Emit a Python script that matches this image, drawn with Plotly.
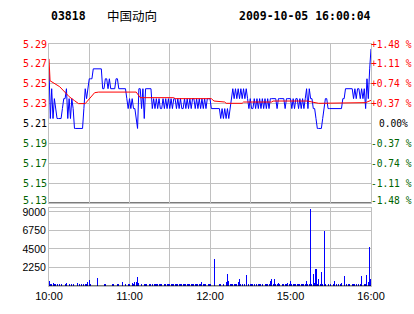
import plotly.graph_objects as go

# ---------------- data ----------------
code = "03818"
name = "中国动向"
stamp = "2009-10-05 16:00:04"

# minute index 0..240 (10:00-12:30, 14:30-16:00)
time_ticks = [0, 30, 60, 90, 120, 150, 180, 210, 240]
time_labels = ["10:00", "", "11:00", "", "12:00", "", "15:00", "", "16:00"]

price = [
    5.27, 5.22, 5.25, 5.22, 5.24, 5.23, 5.22, 5.22, 5.22, 5.22, 5.23, 5.24, 5.24, 5.25, 5.22,
    5.24, 5.22, 5.24, 5.23, 5.21, 5.21, 5.21, 5.21, 5.21, 5.21, 5.21, 5.23, 5.25, 5.24, 5.25,
    5.26, 5.26, 5.26, 5.27, 5.27, 5.27, 5.27, 5.27, 5.27, 5.27, 5.25, 5.25, 5.26, 5.26, 5.25,
    5.26, 5.25, 5.25, 5.25, 5.25, 5.26, 5.26, 5.25, 5.25, 5.25, 5.25, 5.25, 5.25, 5.24, 5.23,
    5.24, 5.23, 5.24, 5.23, 5.23, 5.22, 5.21, 5.25, 5.25, 5.23, 5.25, 5.22, 5.25, 5.25, 5.25,
    5.25, 5.25, 5.23, 5.24, 5.23, 5.24, 5.23, 5.24, 5.23, 5.23, 5.24, 5.23, 5.24, 5.23, 5.24,
    5.23, 5.24, 5.23, 5.24, 5.24, 5.23, 5.24, 5.23, 5.24, 5.23, 5.23, 5.24, 5.23, 5.24, 5.23,
    5.24, 5.23, 5.24, 5.24, 5.23, 5.24, 5.23, 5.24, 5.23, 5.24, 5.23, 5.24, 5.23, 5.24, 5.24,
    5.24, 5.23, 5.23, 5.23, 5.23, 5.23, 5.23, 5.23, 5.22, 5.23, 5.22, 5.23, 5.22, 5.23, 5.22,
    5.23, 5.24, 5.25, 5.24, 5.25, 5.24, 5.25, 5.24, 5.25, 5.24, 5.25, 5.24, 5.25, 5.24, 5.23,
    5.24, 5.23, 5.23, 5.24, 5.23, 5.24, 5.23, 5.24, 5.23, 5.24, 5.23, 5.24, 5.23, 5.24, 5.23,
    5.24, 5.24, 5.24, 5.24, 5.24, 5.23, 5.24, 5.24, 5.24, 5.24, 5.24, 5.23, 5.24, 5.24, 5.24,
    5.24, 5.23, 5.24, 5.23, 5.24, 5.24, 5.23, 5.24, 5.23, 5.24, 5.23, 5.24, 5.25, 5.23, 5.25,
    5.24, 5.24, 5.23, 5.23, 5.22, 5.21, 5.21, 5.21, 5.21, 5.22, 5.23, 5.24, 5.24, 5.23, 5.23,
    5.23, 5.23, 5.23, 5.23, 5.23, 5.23, 5.23, 5.23, 5.23, 5.24, 5.24, 5.25, 5.25, 5.25, 5.25,
    5.25, 5.25, 5.24, 5.25, 5.24, 5.25, 5.25, 5.24, 5.25, 5.24, 5.25, 5.23, 5.26, 5.24, 5.27,
    5.29,
]

# average price line (minute, value)
avg_min = [0, 0.8, 8, 12, 15, 19, 22, 27, 30, 34, 37, 65, 68, 93, 94, 121, 123, 131, 132,
           144, 145, 166, 167, 193, 196, 200, 201, 236, 240]
avg_val = [5.280, 5.258, 5.252, 5.246, 5.242, 5.238, 5.235, 5.235, 5.240, 5.246, 5.2466,
           5.2466, 5.241, 5.241, 5.240, 5.240, 5.2376, 5.2366, 5.2353, 5.2353, 5.2366, 5.2366,
           5.2376, 5.2376, 5.2366, 5.236, 5.2353, 5.236, 5.2383]

volume = [
    640, 300, 250, 350, 300, 250, 300, 0, 250, 250, 0, 0, 300, 400, 0,
    250, 0, 300, 250, 0, 0, 400, 0, 250, 300, 0, 250, 300, 250, 450,
    720, 250, 0, 0, 0, 0, 960, 0, 0, 0, 0, 250, 300, 0, 0,
    0, 0, 250, 250, 0, 0, 300, 250, 0, 0, 450, 0, 250, 0, 300,
    250, 0, 350, 250, 450, 500, 1100, 400, 0, 250, 0, 250, 250, 300, 0,
    250, 300, 250, 0, 250, 300, 250, 300, 250, 250, 0, 250, 300, 250, 250,
    250, 250, 250, 300, 250, 250, 250, 300, 250, 250, 250, 250, 300, 250, 250,
    250, 250, 250, 250, 300, 250, 250, 250, 250, 500, 250, 250, 250, 0, 300,
    250, 0, 0, 3285, 0, 0, 0, 250, 300, 0, 250, 0, 450, 1480, 600,
    300, 250, 300, 250, 300, 250, 500, 800, 250, 250, 0, 300, 1360, 0, 250,
    300, 250, 250, 250, 0, 250, 250, 300, 250, 250, 0, 250, 300, 250, 250,
    600, 800, 300, 860, 250, 250, 400, 300, 0, 250, 300, 250, 300, 400, 250,
    650, 300, 250, 250, 250, 250, 300, 250, 250, 300, 250, 250, 600, 250, 300,
    9300, 300, 1480, 400, 2080, 250, 860, 250, 1720, 300, 6650, 250, 0, 300, 0,
    300, 0, 250, 600, 250, 0, 300, 250, 400, 0, 1240, 0, 250, 300, 250,
    0, 250, 300, 250, 300, 0, 300, 250, 1240, 0, 300, 250, 1360, 500, 4730,
    860,
]

price_ticks = [5.135, 5.155, 5.175, 5.195, 5.215, 5.235, 5.255, 5.275, 5.295]
price_labels = ["5.13", "5.15", "5.17", "5.19", "5.21", "5.23", "5.25", "5.27", "5.29"]
pct_labels = ["-1.48 %", "-1.11 %", "-0.74 %", "-0.37 %", "0.00%",
              "+0.37 %", "+0.74 %", "+1.11 %", "+1.48 %"]
vol_ticks = [2250, 4500, 6750, 9000]

# ---------------- figure ----------------
W, H = 414, 314
L, R, T, B = 49, 43, 44, 26
pw, ph = W - L - R, H - T - B


def px_x(px):
    return (px - L) / pw


def px_y(py):
    return (H - B - py) / ph


RED = "#ff0000"
GREEN = "#006400"
GRID = "#c0c0c0"

fig = go.Figure()
minutes = list(range(len(price)))
fig.add_trace(go.Scatter(x=minutes, y=price, mode="lines",
                         line=dict(color="#0000ff", width=1), xaxis="x", yaxis="y",
                         hoverinfo="skip"))
fig.add_trace(go.Scatter(x=avg_min, y=avg_val, mode="lines",
                         line=dict(color=RED, width=1), xaxis="x", yaxis="y",
                         hoverinfo="skip"))
fig.add_trace(go.Bar(x=list(range(len(volume))), y=volume, width=0.76,
                     marker=dict(color="#0000ff", line=dict(width=0)),
                     xaxis="x2", yaxis="y2", hoverinfo="skip"))

price_dom = [px_y(204.3), 1]
vol_dom = [0, px_y(209.3)]

axis_common = dict(showgrid=True, gridcolor=GRID, gridwidth=1, zeroline=False,
                   showline=True, mirror=True, linecolor=GRID, linewidth=1,
                   ticks="", fixedrange=True)

fig.update_layout(
    width=W, height=H, margin=dict(l=L, r=R, t=T, b=B, pad=0),
    paper_bgcolor="white", plot_bgcolor="white", showlegend=False, hovermode=False,
    bargap=0,
    xaxis=dict(domain=[0, 1], anchor="y", range=[0, 240], tickvals=time_ticks,
               showticklabels=False, **axis_common),
    yaxis=dict(domain=price_dom, anchor="x", range=[price_ticks[0], price_ticks[-1]],
               tickvals=price_ticks, showticklabels=False, **axis_common),
    xaxis2=dict(domain=[0, 1], anchor="y2", range=[0, 240], tickvals=time_ticks,
                ticktext=time_labels, tickfont=dict(family="Liberation Sans", size=11, color="black"),
                **axis_common),
    yaxis2=dict(domain=vol_dom, anchor="x2", range=[0, 9482], tickvals=vol_ticks,
                ticktext=[str(v) for v in vol_ticks],
                tickfont=dict(family="Liberation Sans", size=10.5, color="black"),
                **axis_common),
)

# black reference lines
fig.add_shape(type="line", xref="x", yref="y", x0=0, x1=240, y0=price_ticks[4], y1=price_ticks[4],
              line=dict(color="black", width=1), layer="below")
fig.add_shape(type="line", xref="x", yref="y", x0=0, x1=240, y0=price_ticks[0], y1=price_ticks[0],
              line=dict(color="black", width=1), layer="below")
fig.add_shape(type="line", xref="x2", yref="y2", x0=0, x1=240, y0=0, y1=0,
              line=dict(color="black", width=1), layer="above")

mono = "DejaVu Sans Mono"
for i, (v, lab, pl) in enumerate(zip(price_ticks, price_labels, pct_labels)):
    col = GREEN if i < 4 else ("black" if i == 4 else RED)
    ys = 2 if i == 0 else 0
    fig.add_annotation(xref="paper", yref="y", x=0, y=v, text=lab, showarrow=False,
                       xanchor="right", yanchor="middle", xshift=-1, yshift=ys, borderpad=0,
                       font=dict(family=mono, size=10, color=col))
    fig.add_annotation(xref="paper", yref="y", x=1, y=v, text=pl, showarrow=False,
                       xanchor="left", yanchor="middle", xshift=(7 if i == 4 else -1),
                       yshift=ys, borderpad=0,
                       font=dict(family=mono, size=9.6, color=col))

# header
fig.add_annotation(xref="paper", yref="paper", x=px_x(49), y=px_y(16), text="<b>" + code + "</b>",
                   showarrow=False, xanchor="left", yanchor="middle",
                   font=dict(family=mono, size=11.5, color="black"))
fig.add_annotation(xref="paper", yref="paper", x=px_x(105), y=px_y(15.5), text=name,
                   showarrow=False, xanchor="left", yanchor="middle",
                   font=dict(family="Noto Sans CJK SC", size=12.5, color="black"))
fig.add_annotation(xref="paper", yref="paper", x=px_x(237), y=px_y(16), text="<b>" + stamp + "</b>",
                   showarrow=False, xanchor="left", yanchor="middle",
                   font=dict(family=mono, size=11.5, color="black"))

fig.write_html("out.html", config={"displayModeBar": False, "staticPlot": True})
